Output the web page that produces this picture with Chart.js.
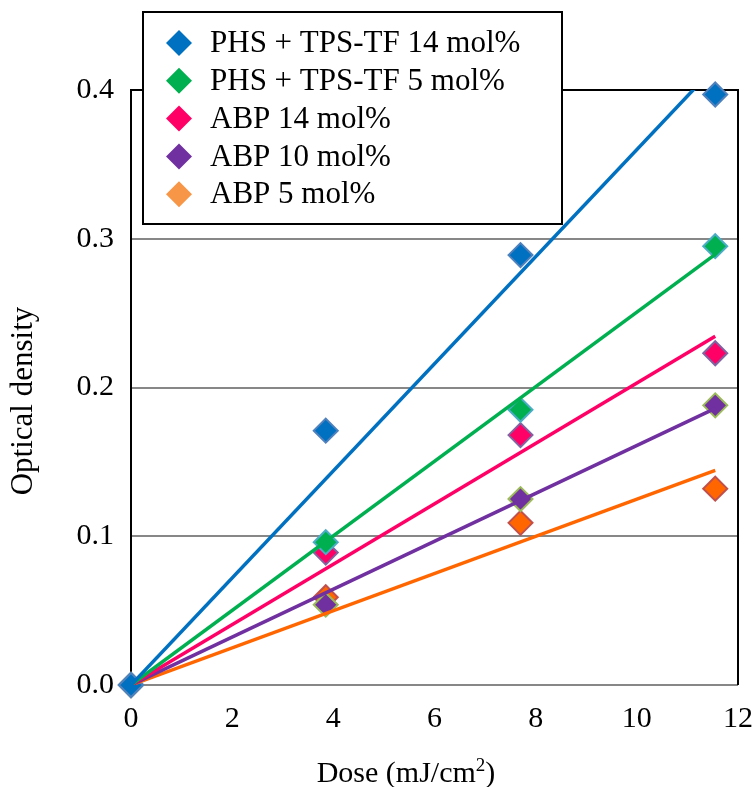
<!DOCTYPE html>
<html>
<head>
<meta charset="utf-8">
<script src="https://cdn.jsdelivr.net/npm/chart.js@4/dist/chart.umd.min.js"></script>
<style>
    html, body { margin: 0; padding: 0; background: #fff; }
    #wrap { width: 753px; height: 787px; }
</style>
</head>
<body>
<div id="wrap"><canvas id="od"></canvas></div>
<script>

// dose in mJ/cm2
var doses = [0, 3.85, 7.7, 11.55];

var phs14 = [0, 0.171, 0.289, 0.397];
var phs5 = [0, 0.096, 0.185, 0.295];
var abp14 = [0, 0.089, 0.168, 0.223];
var abp10 = [0, 0.054, 0.125, 0.188];
var abp5 = [0, 0.059, 0.109, 0.132];

var names = ['PHS + TPS-TF 14 mol%', 'PHS + TPS-TF 5 mol%', 'ABP 14 mol%', 'ABP 10 mol%', 'ABP 5 mol%'];

var yTicks = [0, 0.1, 0.2, 0.3, 0.4];
var xTicks = [0, 2, 4, 6, 8, 10, 12];

var xTitle = ['Dose (mJ/cm', '2', ')'];
var yTitle = 'Optical density';

var series = [phs14, phs5, abp14, abp10, abp5];
var fillColors = ['#0070C0', '#00B050', '#FF0066', '#7030A0', '#FF6600'];
var edgeColors = ['#4F81BD', '#4BACC6', '#8064A2', '#9BBB59', '#C0504D'];
var legendColors = ['#0070C0', '#00B050', '#FF0066', '#7030A0', '#F79646'];

var FONT = '"Liberation Serif", "Times New Roman", serif';

// linear fit forced through the origin
function slopeOf(ys) {
    var sxy = 0, sxx = 0;
    for (var i = 0; i < doses.length; i++) {
        sxy += doses[i] * ys[i];
        sxx += doses[i] * doses[i];
    }
    return sxy / sxx;
}

var datasets = [];
series.forEach(function (ys, i) {
    datasets.push({
        label: names[i],
        data: doses.map(function (d, k) { return { x: d, y: ys[k] }; }),
        showLine: false,
        pointStyle: 'rectRot',
        pointRadius: 12,
        pointHoverRadius: 12,
        backgroundColor: fillColors[i],
        borderColor: edgeColors[i],
        pointBorderWidth: 2,
        clip: false,
        order: 1
    });
});
series.forEach(function (ys, i) {
    var k = slopeOf(ys);
    var xEnd = doses[doses.length - 1];
    datasets.push({
        label: names[i] + ' fit',
        data: [{ x: 0, y: 0 }, { x: xEnd, y: k * xEnd }],
        showLine: true,
        pointRadius: 0,
        borderColor: fillColors[i],
        borderWidth: 3.5,
        fill: false,
        order: 0
    });
});

// black frame on top and right of the plot
var frame = {
    id: 'frame',
    beforeDatasetsDraw: function (chart) {
        var a = chart.chartArea, ctx = chart.ctx;
        ctx.save();
        ctx.strokeStyle = '#000';
        ctx.lineWidth = 2;
        ctx.beginPath();
        ctx.moveTo(a.left, a.top);
        ctx.lineTo(a.right, a.top);
        ctx.lineTo(a.right, a.bottom);
        ctx.stroke();
        ctx.restore();
    }
};

// axis titles, the x one with a raised "2"
var axisTitles = {
    id: 'axisTitles',
    afterDraw: function (chart) {
        var ctx = chart.ctx;
        ctx.save();
        ctx.fillStyle = '#000';
        ctx.textBaseline = 'alphabetic';
        ctx.textAlign = 'left';

        var big = '30px ' + FONT, small = '19px ' + FONT;
        ctx.font = big;
        var w0 = ctx.measureText(xTitle[0]).width;
        var w2 = ctx.measureText(xTitle[2]).width;
        ctx.font = small;
        var w1 = ctx.measureText(xTitle[1]).width;
        var x = 406 - (w0 + w1 + w2) / 2, base = 782;
        ctx.font = big;
        ctx.fillText(xTitle[0], x, base);
        ctx.font = small;
        ctx.fillText(xTitle[1], x + w0, base - 11);
        ctx.font = big;
        ctx.fillText(xTitle[2], x + w0 + w1, base);

        ctx.translate(24, 401);
        ctx.rotate(-Math.PI / 2);
        ctx.font = '31px ' + FONT;
        ctx.textAlign = 'center';
        ctx.textBaseline = 'middle';
        ctx.fillText(yTitle, 0, 0);
        ctx.restore();
    }
};

// boxed legend sitting over the upper left corner
var boxLegend = {
    id: 'boxLegend',
    afterDraw: function (chart) {
        var ctx = chart.ctx;
        var bx = 143, by = 12, bw = 419, bh = 212;
        ctx.save();
        ctx.fillStyle = '#fff';
        ctx.fillRect(bx, by, bw, bh);
        ctx.strokeStyle = '#000';
        ctx.lineWidth = 2;
        ctx.strokeRect(bx, by, bw, bh);
        ctx.font = '31px ' + FONT;
        ctx.textBaseline = 'middle';
        ctx.textAlign = 'left';
        for (var i = 0; i < names.length; i++) {
            var cy = 43 + i * 37.8;
            var cx = 179, r = 13;
            ctx.fillStyle = legendColors[i];
            ctx.beginPath();
            ctx.moveTo(cx, cy - r);
            ctx.lineTo(cx + r, cy);
            ctx.lineTo(cx, cy + r);
            ctx.lineTo(cx - r, cy);
            ctx.closePath();
            ctx.fill();
            ctx.fillStyle = '#000';
            ctx.fillText(names[i], 210, cy + 1);
        }
        ctx.restore();
    }
};

var chartConfig = {
    type: 'scatter',
    data: { datasets: datasets },
    options: {
        responsive: true,
        maintainAspectRatio: false,
        animation: false,
        events: [],
        layout: { padding: { left: 0, top: 90, right: 15, bottom: 0 } },
        plugins: {
            legend: { display: false },
            tooltip: { enabled: false }
        },
        scales: {
            x: {
                type: 'linear',
                min: 0,
                max: 12,
                afterBuildTicks: function (s) { s.ticks = xTicks.map(function (v) { return { value: v }; }); },
                afterFit: function (s) {
                    s.height = 102;
                    s.paddingLeft = 0;
                    s.paddingRight = 0;
                },
                grid: { display: false, drawTicks: false },
                border: { display: false },
                ticks: {
                    padding: 16,
                    color: '#000',
                    font: { family: FONT, size: 30 }
                }
            },
            y: {
                min: 0,
                max: 0.4,
                afterBuildTicks: function (s) { s.ticks = yTicks.map(function (v) { return { value: v }; }); },
                afterFit: function (s) {
                    s.width = 131;
                    s.paddingTop = 0;
                    s.paddingBottom = 0;
                },
                grid: { color: '#878787', lineWidth: 2, drawTicks: false },
                border: { display: true, color: '#000', width: 2 },
                ticks: {
                    padding: 17,
                    color: '#000',
                    font: { family: FONT, size: 30 },
                    callback: function (v) { return v.toFixed(1); }
                }
            }
        }
    },
    plugins: [frame, axisTitles, boxLegend]
};

new Chart(document.getElementById('od'), chartConfig);
</script>
</body>
</html>
